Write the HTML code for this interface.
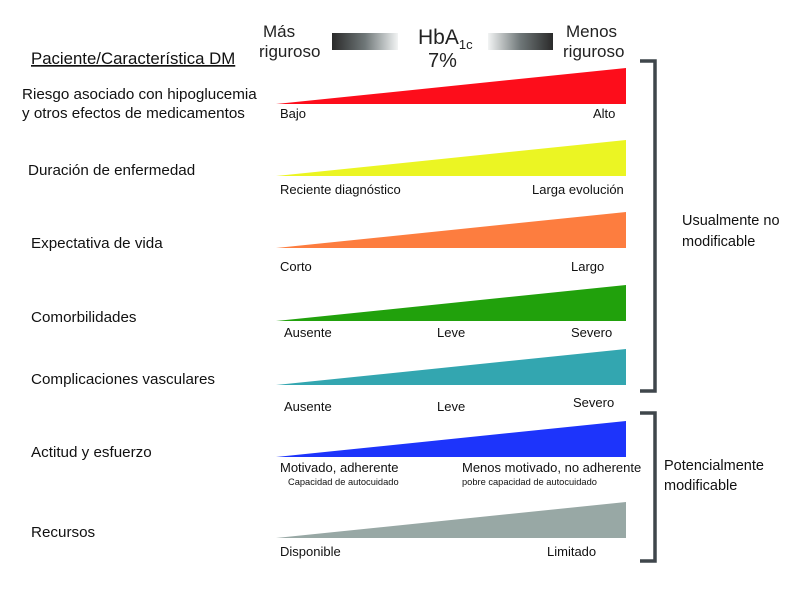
<!DOCTYPE html>
<html><head><meta charset="utf-8">
<style>
html,body{margin:0;padding:0;background:#fff;}
svg{display:block;font-family:"Liberation Sans",sans-serif;}
</style></head>
<body>
<svg id="chart" width="800" height="589" viewBox="0 0 800 589">
<defs>
<linearGradient id="gl" x1="0" x2="1" y1="0" y2="0"><stop offset="0" stop-color="#2a2a2a"/><stop offset="0.5" stop-color="#6f7778"/><stop offset="1" stop-color="#f2f4f4"/></linearGradient>
<linearGradient id="gr" x1="0" x2="1" y1="0" y2="0"><stop offset="0" stop-color="#f2f4f4"/><stop offset="0.5" stop-color="#6f7778"/><stop offset="1" stop-color="#2a2a2a"/></linearGradient>
</defs>
<g>
<text x="31" y="64" font-size="16.8" fill="#111" text-decoration="underline">Paciente/Característica DM</text>
<text x="262" y="37" font-size="17" fill="#222"><tspan x="263">Más</tspan><tspan x="259" dy="20">riguroso</tspan></text>
<rect x="332" y="33" width="66" height="17" fill="url(#gl)"/>
<text x="418" y="44" font-size="21" fill="#222">HbA<tspan font-size="13" dy="5">1c</tspan></text>
<text x="428" y="67" font-size="20" fill="#222">7%</text>
<rect x="488" y="33" width="65" height="17" fill="url(#gr)"/>
<text x="565" y="37" font-size="17" fill="#222"><tspan x="566">Menos</tspan><tspan x="563" dy="20">riguroso</tspan></text>
</g>
<g id="rows"></g>
<g>
<path d="M640 61 H655 V391 H640" fill="none" stroke="#3f464b" stroke-width="3.5"/>
<path d="M640 413 H655 V561 H640" fill="none" stroke="#3f464b" stroke-width="3.5"/>
<text font-size="14.5" fill="#111"><tspan x="682" y="225">Usualmente no</tspan><tspan x="682" y="246">modificable</tspan></text>
<text font-size="14.5" fill="#111"><tspan x="664" y="470">Potencialmente</tspan><tspan x="664" y="490">modificable</tspan></text>
</g>
</svg>
<script>
const categories = ["Riesgo asociado con hipoglucemia|y otros efectos de medicamentos","Duración de enfermedad","Expectativa de vida","Comorbilidades","Complicaciones vasculares","Actitud y esfuerzo","Recursos"];
const colors = ["#fd0d1b","#ebf523","#fd7d3f","#21a10c","#33a6b0","#1d34fb","#98a8a5"];
const lowLabels = ["Bajo","Reciente diagnóstico","Corto","Ausente","Ausente","Motivado, adherente","Disponible"];
const midLabels = ["","","","Leve","Leve","",""];
const highLabels = ["Alto","Larga evolución","Largo","Severo","Severo","Menos motivado, no adherente","Limitado"];
const rowTops = [68,140,212,285,349,421,502];
const catY = [[99,118],[175],[248],[322],[384],[457],[537]];
const labelY = [118,194,271,337,411,472,556];
const subLow = ["","","","","","Capacidad de autocuidado",""];
const subHigh = ["","","","","","pobre capacidad de autocuidado",""];
const ns="http://www.w3.org/2000/svg";
const g=document.getElementById('rows');
const x0=276,x1=626,h=36;
const highX=[593,532,571,571,573,462,547];
function mk(tag,attrs,txt){const e=document.createElementNS(ns,tag);for(const k in attrs)e.setAttribute(k,attrs[k]);if(txt!==undefined)e.textContent=txt;return e;}
categories.forEach((c,i)=>{
  const row=mk('g',{});
  
  
  const top=rowTops[i],bot=top+h;
  const tri=mk('polygon',{points:`${x0},${bot} ${x1},${top} ${x1},${bot}`,fill:colors[i]});
  
  
  row.appendChild(tri);
  const lines=c.split('|');
  const cx = i===0?22:(i===1?28:31);
  const t=mk('text',{'font-size':'15.2',fill:'#111'});
  
  
  lines.forEach((l,j)=>{const ts=mk('tspan',{x:cx,y:catY[i][j]},l);t.appendChild(ts);});
  row.appendChild(t);
  const ly=labelY[i];
  const lo=mk('text',{x:i===3||i===4?284:280,y:ly,'font-size':'13',fill:'#111'},lowLabels[i]);
  
  
  row.appendChild(lo);
  if(midLabels[i]){const m=mk('text',{x:437,y:ly,'font-size':'13',fill:'#111'},midLabels[i]);
    
    
    row.appendChild(m);}
  const hi=mk('text',{x:highX[i],y:i===4?ly-4:ly,'font-size':'13',fill:'#111'},highLabels[i]);
  
  
  row.appendChild(hi);
  if(subLow[i]){const s=mk('text',{x:288,y:ly+13,'font-size':'9.3',fill:'#111'},subLow[i]);
    
    
    row.appendChild(s);
    const s2=mk('text',{x:462,y:ly+13,'font-size':'9.3',fill:'#111'},subHigh[i]);
    
    
    row.appendChild(s2);}
  g.appendChild(row);
});
</script>
</body></html>
